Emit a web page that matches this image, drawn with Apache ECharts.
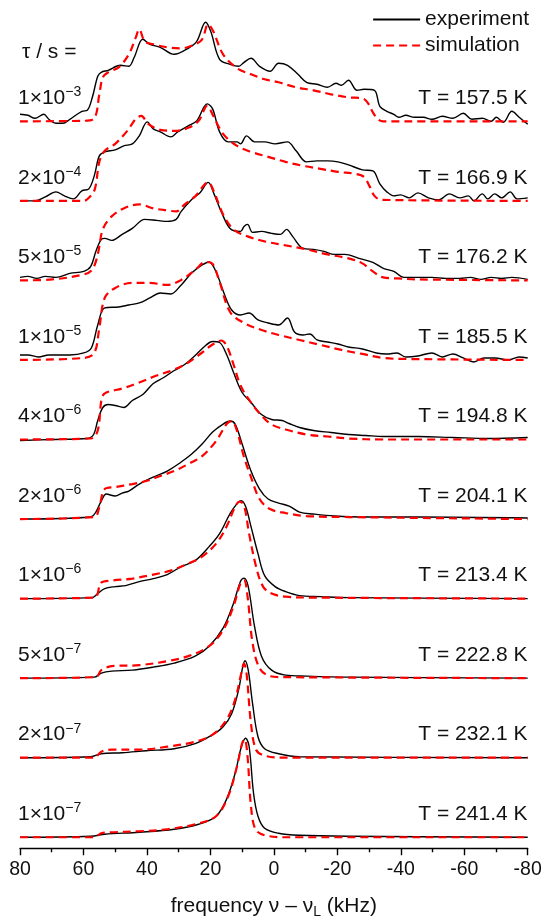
<!DOCTYPE html>
<html><head><meta charset="utf-8">
<script src="https://cdn.jsdelivr.net/npm/echarts@6/dist/echarts.min.js"></script>
<style>html,body{margin:0;padding:0;background:#fff}#c{width:546px;height:916px}</style>
</head><body><div id="c"></div>
<script>
// ---- data (frequency in kHz, intensity in arbitrary units) ----
const tauMantissa = [1, 2, 5, 1, 4, 2, 1, 5, 2, 1];
const tauExponent = [-3, -4, -5, -5, -6, -6, -6, -7, -7, -7];
const temperatures = ['157.5', '166.9', '176.2', '185.5', '194.8', '204.1', '213.4', '222.8', '232.1', '241.4'];
const xTicks = { min: -80, max: 80, interval: 20 };

const exp1 = [[80,7],[77.5,6],[75.3,3],[72.5,7],[70.9,2],[68.7,-2],[66.5,-2],[64.3,2],[60.5,10],[58.8,11],[57.2,24],[55.5,45],[54.4,49],[52.2,51],[48.4,56],[45.7,55],[44,64],[41.3,82],[39.1,77],[35.8,74],[31.4,67],[27,73],[24.3,80],[21.5,99],[19.9,90],[17.1,62],[13.8,57],[11.1,55],[9.4,59],[7.2,63],[4.5,55],[1.2,50],[-1.5,58],[-4.3,56],[-7.6,47],[-10.3,39],[-13.6,37],[-16.9,34],[-19.6,38],[-21.3,36],[-23.5,41],[-26.2,31],[-28.4,32],[-31.7,31],[-33.4,15],[-35.6,10],[-37.8,7],[-39.4,4],[-41.6,6],[-44.3,4],[-47.1,4],[-49.8,2],[-53.1,5],[-56.4,3],[-59.7,8],[-62.4,2],[-65.7,3],[-68.5,0],[-70.1,4],[-72.3,-1],[-75,10],[-77.3,4],[-80,-3]];
const sim1 = [[80,0],[60,0.5],[56.6,3],[55,27],[53.9,44],[52.2,49],[48.9,54],[45.7,67],[43.5,84],[42.4,92],[40.7,80],[38,77],[33.6,74],[29.2,73],[24.8,77],[22.6,82],[20.7,97],[19.1,90],[16,67],[11.6,53],[7.2,47],[2.9,42],[-1.5,39],[-7,34],[-12.5,31],[-18,27],[-23.5,24],[-27.9,23],[-29.5,19],[-31.2,9],[-32.8,2],[-34.5,0],[-80,0]];

const exp2 = [[80,0],[75.3,0],[72,4],[68.7,9],[66,5],[63.2,2],[60.5,10],[58.3,12],[56.6,25],[55,45],[53.3,49],[50,51],[47.3,55],[44.6,57],[42.4,65],[39.9,79],[38,72],[35.8,69],[32.5,64],[30.3,69],[27,75],[24.3,80],[21,97],[19.3,92],[17.1,69],[14.4,59],[11.6,59],[10.5,57],[8.6,65],[6.1,59],[2.9,59],[-0.4,57],[-4.3,59],[-7,50],[-10.3,39],[-13.6,40],[-16.9,40],[-20.2,39],[-23.5,36],[-27.9,31],[-31.2,30],[-33.4,17],[-35.6,9],[-37.8,5],[-39.9,6],[-42.7,3],[-45.4,8],[-48.7,3],[-52,1],[-55.3,7],[-58.6,3],[-61.3,5],[-63,0],[-65.7,7],[-67.4,2],[-69.6,7],[-71.8,3],[-74.5,9],[-76.6,2],[-80,3]];
const sim2 = [[80,0],[59.9,0],[58.3,3],[56.4,12],[55,39],[53.3,50],[50,57],[46.2,70],[43.5,82],[41.8,85],[39.6,77],[35.8,71],[31.4,70],[27,73],[23.7,80],[21,95],[19.1,85],[16,67],[11.6,55],[7.2,49],[1.8,44],[-3.7,39],[-9.2,35],[-14.7,32],[-20.2,29],[-25.7,27],[-28.4,24],[-30.1,15],[-31.7,5],[-33.9,1],[-80,0]];

const exp3 = [[80,3],[77.5,4],[74.7,2],[72,4],[68.7,3],[64.3,7],[59.9,9],[57.7,14],[56.1,29],[54.4,41],[53.3,42],[51.1,40],[47.8,46],[44.6,52],[40.7,61],[36.9,60],[33.6,59],[30.8,61],[29.2,69],[25.9,81],[23.2,88],[20.7,98],[18.8,86],[16.6,69],[13.8,52],[10.5,49],[9.4,54],[8.3,56],[6.7,48],[3.9,49],[0.7,47],[-2.1,46],[-4,51],[-5.9,44],[-9.2,32],[-12.5,31],[-15.8,29],[-19.1,26],[-22.4,26],[-26.8,22],[-31.2,18],[-34.5,12],[-37.8,9],[-41,3],[-45.4,3],[-49.8,3],[-54.2,2],[-58.6,2],[-61.9,3],[-65.2,1],[-68.5,3],[-71.8,2],[-75,3],[-80,1]];
const sim3 = [[80,0],[69.8,1],[59.9,6],[57.2,11],[55.5,26],[53.9,51],[51.1,64],[46.7,73],[42.4,76],[38,72],[33.6,70],[30.8,69],[28.1,76],[24.8,84],[20.7,98],[18.8,88],[16,66],[12.7,51],[8.3,44],[2.9,39],[-3.7,35],[-10.3,31],[-16.9,26],[-23.5,22],[-27.9,17],[-31.2,9],[-34.5,3],[-38.8,2],[-45.4,1],[-80,0]];

const exp4 = [[80,5],[77.5,5],[74.2,3],[70.9,5],[64.3,5],[59.9,7],[57.5,12],[55.5,35],[53.3,52],[48.9,53],[45.7,55],[42.4,57],[39.1,62],[35.8,67],[32.5,66],[29.2,75],[25.9,87],[22.6,95],[20.4,98],[18.2,88],[15.5,65],[13.3,50],[10.5,45],[7.8,47],[5,40],[1.8,37],[-1.5,35],[-4.3,42],[-6.5,28],[-9.2,25],[-11.4,26],[-13.6,20],[-16.9,18],[-20.2,16],[-23.5,13],[-27.9,11],[-32.3,7],[-35.6,6],[-38.8,7],[-41.6,3],[-45.4,4],[-49.8,7],[-53.1,3],[-56.4,6],[-59.7,2],[-63,-2],[-66.3,2],[-69.6,2],[-74,0],[-77.3,3],[-80,2]];
const sim4 = [[80,0],[59.9,2],[56.6,7],[55,32],[53.3,62],[50,72],[44.6,77],[39.1,77],[33.6,75],[29.2,80],[24.8,90],[21.5,98],[19.3,96],[17.1,78],[13.8,48],[9.4,37],[3.9,30],[-1.5,25],[-8.1,20],[-14.7,15],[-21.3,10],[-27.9,6],[-34.5,2],[-41,1],[-80,0]];

const exp5 = [[80,-1],[69.8,0],[58.8,1],[56.8,5],[55.5,19],[53.9,32],[52.2,35],[50,34],[47.3,32],[44.6,39],[41.3,45],[38,56],[34.7,62],[31.4,69],[28.1,75],[24.8,84],[21.5,94],[19.3,98],[17.1,97],[14.9,85],[12.7,67],[10,47],[7.2,37],[3.9,25],[0.7,20],[-2.6,19],[-4.8,16],[-8.1,12],[-12.5,9],[-18,7],[-23.5,5],[-29,4],[-34.5,3],[-45.4,3],[-56.4,2],[-67.4,1],[-80,2]];
const sim5 = [[80,0],[57.7,1],[55.5,9],[54.2,42],[52.8,47],[47.8,51],[42.4,57],[36.9,64],[31.4,70],[27,77],[22.6,87],[19.3,95],[16.6,99],[14.9,94],[12.7,75],[10.5,54],[7.2,37],[3.9,24],[0.7,15],[-3.7,10],[-10.3,5],[-16.9,3],[-23.5,1],[-34.5,0],[-80,0]];

const exp6 = [[80,0],[57.7,2],[56.1,7],[54.4,18],[52.8,25],[50,23],[47.8,26],[45.7,28],[42.4,35],[38,42],[33.6,48],[29.2,57],[25.9,65],[22.6,75],[19.3,87],[16,95],[13.8,98],[12.2,95],[10,75],[7.2,48],[4.5,30],[1.8,20],[-1.5,16],[-4.8,13],[-8.1,7],[-12.5,5],[-19.1,3],[-29,2],[-45.4,2],[-80,1]];
const sim6 = [[80,0],[56.6,2],[55,12],[53.3,30],[50,32],[44.6,35],[40.2,38],[35.8,43],[31.4,48],[27,55],[22.6,63],[18.2,78],[14.9,95],[13.3,98],[11.6,88],[9.4,62],[7.2,42],[4.5,20],[1.2,10],[-3.7,6],[-10.3,3],[-23.5,2],[-80,0]];

const exp7 = [[80,0],[57.2,1],[55.5,5],[53.3,10],[50,12],[46.7,13],[42.4,17],[38,20],[33.6,24],[29.2,32],[24.8,38],[20.4,52],[17.1,65],[13.8,85],[11.6,95],[10.3,98],[8.9,92],[7.2,72],[5,45],[2.9,23],[-0.4,12],[-3.7,7],[-8.1,3],[-14.7,2],[-23.5,1],[-80,0]];
const sim7 = [[80,0],[56.6,1],[54.4,16],[51.1,18],[44.6,20],[38,24],[32.5,28],[27,35],[22.6,42],[18.2,55],[14.9,72],[12.2,92],[10.8,97],[9.4,93],[7.8,65],[5.6,32],[3.4,12],[0.7,5],[-3.7,2],[-12.5,1],[-80,0]];

const exp8 = [[80,0],[56.6,1],[54.4,5],[51.1,7],[44.6,8],[38,11],[31.4,15],[24.8,22],[20.4,32],[16,50],[12.7,75],[10.5,97],[9.4,100],[8.1,92],[6.1,52],[3.9,22],[0.7,8],[-3.7,3],[-10.3,2],[-23.5,1],[-80,0]];
const sim8 = [[80,0],[56.1,1],[54.4,8],[51.1,12],[42.4,13],[33.6,17],[27,22],[20.4,32],[16,48],[12.7,72],[10.5,95],[9.4,98],[8.3,82],[6.7,35],[4.5,10],[1.2,2],[-3.7,1],[-80,0]];

const exp9 = [[80,0],[57.7,1],[54.4,4],[47.8,5],[40.2,7],[31.4,9],[24.8,14],[19.3,23],[16,31],[13.3,44],[11.1,68],[9.8,91],[9.1,97],[8.1,88],[6.7,54],[5,21],[2.9,9],[-1.5,4],[-8.1,1],[-80,0]];
const sim9 = [[80,0],[56.6,0],[54.4,6],[51.1,8],[42.4,8],[33.6,11],[24.8,16],[19.3,23],[14.9,38],[12.2,58],[10.3,84],[9.4,94],[8.6,84],[7.2,34],[5.6,8],[2.9,2],[-3.7,0],[-80,0]];

const exp10 = [[80,0],[57.7,1],[53.3,3],[42.4,5],[31.4,8],[23.7,13],[18.2,21],[14.9,38],[12.2,64],[10.2,91],[8.9,99],[7.8,91],[6.4,44],[5,21],[2.9,9],[-1.5,4],[-8.1,2],[-23.5,1],[-80,0]];
const sim10 = [[80,0],[56.6,0],[54.4,4],[51.1,5],[42.4,6],[33.6,8],[24.8,13],[18.2,21],[14.4,41],[11.6,71],[10,94],[9.2,98],[8.3,81],[7.2,31],[5.8,8],[2.9,2],[-3.7,0],[-80,0]];

const expAll = [exp1, exp2, exp3, exp4, exp5, exp6, exp7, exp8, exp9, exp10];
const simAll = [sim1, sim2, sim3, sim4, sim5, sim6, sim7, sim8, sim9, sim10];

// ---- layout / style ----
const FONT = '"Liberation Sans", Arial, sans-serif';
const LABEL_SIZE = 21;
const firstBase = 121.3, step = 79.55;
const yLo = -11, yHi = 109, gridH = 120;
const n = expAll.length;
const grids = [], xAxes = [], yAxes = [], series = [], graphics = [];

for (let i = 0; i < n; i++) {
  const base = firstBase + step * i;
  const last = i === n - 1;
  grids.push({ left: 20, right: 18.3, top: base - yHi, height: gridH, containLabel: false, outerBoundsMode: 'none' });
  xAxes.push({
    type: 'value', gridIndex: i, min: xTicks.min, max: xTicks.max, interval: xTicks.interval,
    inverse: true, show: last,
    axisLine: { show: last, onZero: false, lineStyle: { color: '#000', width: 1.4 } },
    axisTick: { show: last, length: 7, lineStyle: { color: '#000', width: 1.4 } },
    minorTick: { show: last, splitNumber: 2, length: 4, lineStyle: { color: '#000', width: 1.4 } },
    splitLine: { show: false },
    axisLabel: { show: last, fontSize: 19.5, color: '#111', fontFamily: FONT, margin: 11 },
    name: last ? '{a|frequency ν – ν}{s|L}{a| (kHz)}' : '',
    nameLocation: 'middle', nameGap: 45,
    nameTextStyle: { fontSize: 21, color: '#111', fontFamily: FONT,
      rich: { a: { fontSize: 21, fontFamily: FONT, color: '#111', lineHeight: 26 },
              s: { fontSize: 14, fontFamily: FONT, color: '#111', lineHeight: 15, verticalAlign: 'bottom' } } }
  });
  yAxes.push({ type: 'value', gridIndex: i, min: yLo, max: yHi, show: false, splitLine: { show: false } });
  series.push({
    type: 'line', name: 'experiment', xAxisIndex: i, yAxisIndex: i, data: expAll[i],
    symbol: 'none', showSymbol: false, smooth: 0.35, silent: true, clip: false, z: 2,
    lineStyle: { color: '#000', width: 1.4 }, itemStyle: { color: '#000' }
  });
  series.push({
    type: 'line', name: 'simulation', xAxisIndex: i, yAxisIndex: i, data: simAll[i],
    symbol: 'none', showSymbol: false, smooth: 0.35, silent: true, clip: false, z: 3,
    lineStyle: { color: '#ff0000', width: 2.2, type: [8, 5] }, itemStyle: { color: '#ff0000' }
  });
  const labY = base - 23;
  graphics.push({
    type: 'text', x: 18, y: labY, silent: true,
    style: {
      text: '{m|' + tauMantissa[i] + '×10}{e|' + String(tauExponent[i]).replace('-', '−') + '}',
      align: 'left', verticalAlign: 'middle',
      rich: { m: { fontSize: LABEL_SIZE, fontFamily: FONT, fill: '#111', lineHeight: 26 },
              e: { fontSize: 14, fontFamily: FONT, fill: '#111', lineHeight: 15, verticalAlign: 'top' } }
    }
  });
  graphics.push({
    type: 'text', x: 527.5, y: labY, silent: true,
    style: { text: 'T = ' + temperatures[i] + ' K', font: LABEL_SIZE + 'px ' + FONT, fill: '#111', align: 'right', verticalAlign: 'middle' }
  });
}
graphics.push({
  type: 'text', x: 22, y: 52, silent: true,
  style: { text: 'τ / s =', font: LABEL_SIZE + 'px ' + FONT, fill: '#111', align: 'left', verticalAlign: 'middle' }
});

const chart = echarts.init(document.getElementById('c'), null, { renderer: 'canvas' });
chart.setOption({
  animation: false,
  backgroundColor: '#fff',
  legend: {
    data: ['experiment', 'simulation'], orient: 'vertical', right: 12, top: 4,
    itemWidth: 47, itemHeight: 14, itemGap: 5,
    itemStyle: { color: 'rgba(0,0,0,0)', borderWidth: 0, opacity: 0 },
    textStyle: { fontSize: LABEL_SIZE, color: '#111', fontFamily: FONT }
  },
  grid: grids, xAxis: xAxes, yAxis: yAxes, series: series, graphic: graphics
});
</script></body></html>
